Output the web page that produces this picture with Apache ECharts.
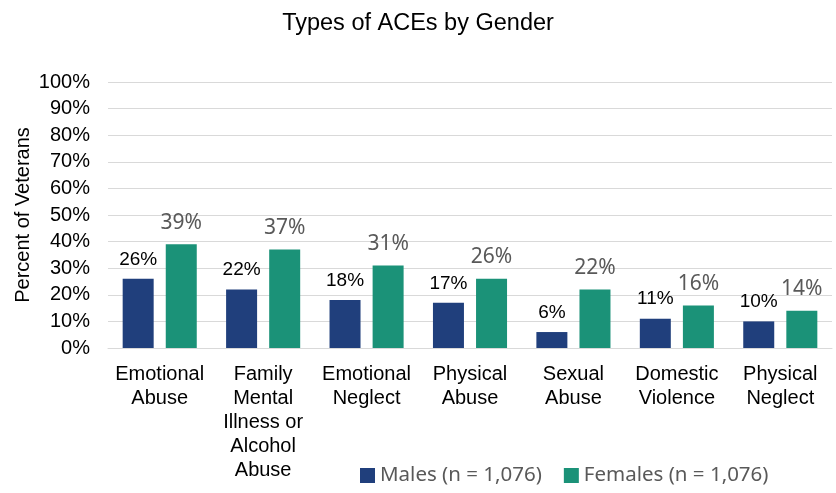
<!DOCTYPE html>
<html><head><meta charset="utf-8">
<script src="https://cdn.jsdelivr.net/npm/echarts@6/dist/echarts.min.js"></script>
<style>html,body{margin:0;padding:0;background:#fff}#c{width:836px;height:493px}</style>
</head><body><div id="c"></div>
<script>
const categories = ['Emotional\nAbuse','Family\nMental\nIllness or\nAlcohol\nAbuse','Emotional\nNeglect','Physical\nAbuse','Sexual\nAbuse','Domestic\nViolence','Physical\nNeglect'];
const males = [26,22,18,17,6,11,10];
const females = [39,37,31,26,22,16,14];
const seriesNames = ['Males (n = 1,076)','Females (n = 1,076)'];

const chart = echarts.init(document.getElementById('c'));
chart.setOption({
  animation:false,
  title:{text:'Types of ACEs by Gender',left:'center',top:7,textStyle:{fontFamily:'Liberation Sans',fontSize:23.5,fontWeight:'normal',color:'#000'}},
  legend:{bottom:2,left:355,itemWidth:15,itemHeight:15,itemGap:22,itemTextGap:6,icon:'rect',textStyle:{fontFamily:'Noto Sans',fontSize:20.5,color:'#595959'}},
  grid:{left:108,right:4,top:82,bottom:145},
  xAxis:{type:'category',data:categories,axisTick:{show:false},axisLine:{lineStyle:{color:'#d9d9d9'}},
    axisLabel:{interval:0,fontFamily:'Liberation Sans',fontSize:20,color:'#000',lineHeight:24,margin:14}},
  yAxis:{type:'value',min:0,max:100,interval:10,name:'Percent of Veterans',nameLocation:'middle',nameGap:75,nameMoveOverlap:false,
    nameTextStyle:{fontFamily:'Liberation Sans',fontSize:20,color:'#000'},
    axisLabel:{formatter:'{value}%',fontFamily:'Liberation Sans',fontSize:20,color:'#000',margin:18},
    splitLine:{lineStyle:{color:'#d9d9d9'}}},
  series:[
    {name:seriesNames[0],type:'bar',data:males,barWidth:31,barGap:'39%',itemStyle:{color:'#203F7C'},
     label:{show:true,position:'top',distance:10,formatter:'{c}%',fontFamily:'Liberation Sans',fontSize:19,color:'#000'}},
    {name:seriesNames[1],type:'bar',data:females,barWidth:31,itemStyle:{color:'#1B9278'},
     label:{show:true,position:'top',distance:11,formatter:'{c}%',fontFamily:'Noto Sans',fontSize:21,color:'#595959'}}
  ]
});
</script></body></html>
